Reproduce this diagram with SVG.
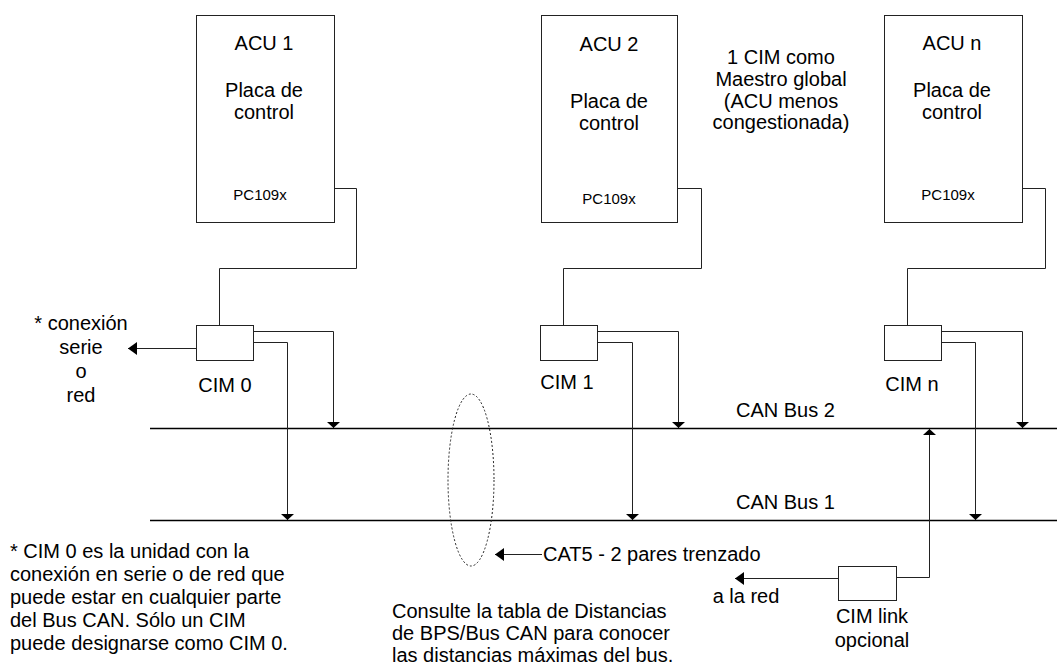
<svg xmlns="http://www.w3.org/2000/svg" width="1057" height="669" viewBox="0 0 1057 669">
<defs>
<style>
text{font-family:"Liberation Sans",Arial,sans-serif;font-size:20px;fill:#000}
.c{text-anchor:middle}
.s{font-size:15px}
.box{fill:#fff;stroke:#222;stroke-width:1}
.ln{fill:none;stroke:#222;stroke-width:1}
.bus{fill:none;stroke:#000;stroke-width:1.3}
</style>
<marker id="av" viewBox="0 0 6 13" refX="6" refY="6.5" markerWidth="6" markerHeight="13" markerUnits="userSpaceOnUse" orient="auto"><path d="M0,0 L6,6.5 L0,13 z" fill="#000"/></marker>
<marker id="ahz" viewBox="0 0 9 13" refX="9" refY="6.5" markerWidth="9" markerHeight="13" markerUnits="userSpaceOnUse" orient="auto"><path d="M0,0 L9,6.5 L0,13 z" fill="#000"/></marker>
</defs>
<rect width="1057" height="669" fill="#fff"/>

<g id="buses">
<line class="bus" x1="150" y1="428.5" x2="1057" y2="428.5"/>
<line class="bus" x1="150" y1="520.5" x2="1057" y2="520.5"/>
<text x="736" y="417">CAN Bus 2</text>
<text x="736" y="509">CAN Bus 1</text>
</g>

<g id="connectors">
<path class="ln" d="M323,188.5 H356.5 V268.5 H219.5 V325"/>
<path class="ln" d="M667,188.5 H701.5 V268.5 H563.5 V325"/>
<path class="ln" d="M1010,188.5 H1045.5 V268.5 H907.5 V325"/>
<path class="ln" d="M253,331.5 H333.5 V428" marker-end="url(#av)"/>
<path class="ln" d="M253,342.5 H287.5 V520" marker-end="url(#av)"/>
<path class="ln" d="M597,331.5 H678.5 V428" marker-end="url(#av)"/>
<path class="ln" d="M597,342.5 H632.5 V520" marker-end="url(#av)"/>
<path class="ln" d="M941,331.5 H1022.5 V428" marker-end="url(#av)"/>
<path class="ln" d="M941,342.5 H975.5 V520" marker-end="url(#av)"/>
<path class="ln" d="M196,348.5 H128" marker-end="url(#ahz)"/>
<path class="ln" d="M896,577.5 H929.5 V429" marker-end="url(#av)"/>
<path class="ln" d="M855.5,583 V578.5 H735" marker-end="url(#ahz)"/>
<path class="ln" d="M542,554.5 H495" marker-end="url(#ahz)"/>
<ellipse cx="471" cy="480" rx="23" ry="86" fill="none" stroke="#222" stroke-width="1" stroke-dasharray="2,2"/>
</g>

<g id="acu1">
<rect class="box" x="196.5" y="15.5" width="138" height="207"/>
<text class="c" x="264" y="50">ACU 1</text>
<text class="c" x="264" y="97">Placa de</text>
<text class="c" x="264" y="119">control</text>
<text class="c s" x="260" y="200">PC109x</text>
</g>

<g id="acu2">
<rect class="box" x="541.5" y="15.5" width="136" height="207"/>
<text class="c" x="609" y="51">ACU 2</text>
<text class="c" x="609" y="108">Placa de</text>
<text class="c" x="609" y="130">control</text>
<text class="c s" x="609" y="204">PC109x</text>
</g>

<g id="acun">
<rect class="box" x="884.5" y="15.5" width="138" height="207"/>
<text class="c" x="952" y="50">ACU n</text>
<text class="c" x="952" y="97">Placa de</text>
<text class="c" x="952" y="119">control</text>
<text class="c s" x="948" y="200">PC109x</text>
</g>

<g id="master-note">
<text class="c" x="781" y="64">1 CIM como</text>
<text class="c" x="781" y="86">Maestro global</text>
<text class="c" x="781" y="107.5">(ACU menos</text>
<text class="c" x="781" y="129">congestionada)</text>
</g>

<g id="cim0">
<rect class="box" x="196.5" y="325.5" width="57" height="35"/>
<text class="c" x="225" y="392">CIM 0</text>
</g>

<g id="cim1">
<rect class="box" x="540.5" y="325.5" width="57" height="35"/>
<text class="c" x="567" y="389">CIM 1</text>
</g>

<g id="cimn">
<rect class="box" x="884.5" y="325.5" width="57" height="35"/>
<text class="c" x="912" y="391">CIM n</text>
</g>

<g id="cimlink">
<rect class="box" x="838.5" y="566.5" width="58" height="34"/>
<text class="c" x="872" y="623">CIM link</text>
<text class="c" x="872" y="647">opcional</text>
</g>

<g id="serial-note">
<text class="c" x="81" y="330">* conexión</text>
<text class="c" x="81" y="354">serie</text>
<text class="c" x="81" y="378">o</text>
<text class="c" x="81" y="402">red</text>
</g>

<g id="labels">
<text x="543" y="561">CAT5 - 2 pares trenzado</text>
<text class="c" x="746" y="603">a la red</text>
</g>

<g id="footnote">
<text x="10" y="558">* CIM 0 es la unidad con la</text>
<text x="10" y="581">conexión en serie o de red que</text>
<text x="10" y="604">puede estar en cualquier parte</text>
<text x="10" y="627">del Bus CAN. Sólo un CIM</text>
<text x="10" y="650">puede designarse como CIM 0.</text>
</g>

<g id="distance-note">
<text x="392" y="618">Consulte la tabla de Distancias</text>
<text x="392" y="640">de BPS/Bus CAN para conocer</text>
<text x="392" y="662">las distancias máximas del bus.</text>
</g>
</svg>
